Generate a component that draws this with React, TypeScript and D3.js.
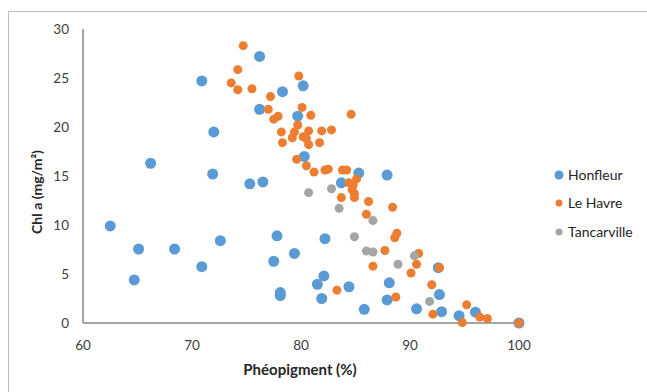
import React from "react";
import * as d3 from "d3";

const honfleurX = [62.5, 64.7, 65.1, 66.2, 68.4, 70.9, 71.9, 72.6, 75.3, 76.5, 70.9, 72.0, 76.2, 78.3, 80.2, 76.2, 79.7, 80.3, 85.3, 87.9, 83.7, 77.8, 79.4, 77.5, 82.2, 82.1, 81.5, 84.4, 78.1, 78.1, 81.9, 85.8, 88.1, 87.9, 90.6, 92.6, 92.7, 92.9, 94.5, 96.0, 100];
const honfleurY = [9.9, 4.4, 7.55, 16.3, 7.55, 5.75, 15.2, 8.4, 14.2, 14.4, 24.7, 19.5, 27.2, 23.6, 24.2, 21.8, 21.1, 17.0, 15.3, 15.1, 14.3, 8.9, 7.1, 6.3, 8.6, 4.8, 3.95, 3.7, 3.1, 2.8, 2.5, 1.4, 4.1, 2.35, 1.45, 5.65, 2.9, 1.15, 0.75, 1.1, 0];

const leHavreX = [74.7, 74.2, 73.6, 74.2, 75.5, 79.8, 77.2, 77.0, 77.9, 77.5, 80.1, 80.9, 84.6, 79.7, 78.2, 79.4, 80.7, 81.9, 82.8, 79.2, 80.2, 80.5, 78.3, 80.7, 81.7, 79.6, 80.5, 81.2, 82.2, 82.5, 83.8, 84.2, 84.4, 84.8, 84.7, 84.9, 84.9, 85.1, 83.7, 86.2, 88.4, 86.0, 88.8, 88.6, 87.7, 86.6, 83.3, 88.7, 90.8, 90.6, 90.1, 92.7, 92.0, 92.1, 95.2, 94.8, 96.4, 97.1, 100];
const leHavreY = [28.3, 25.85, 24.5, 23.8, 23.9, 25.2, 23.1, 21.8, 21.1, 20.8, 22.0, 21.2, 21.3, 20.2, 19.5, 19.5, 19.6, 19.6, 19.7, 18.9, 19.0, 18.8, 18.4, 18.2, 18.4, 16.7, 16.05, 15.4, 15.6, 15.7, 15.6, 15.6, 14.3, 14.1, 13.6, 13.2, 12.8, 14.7, 12.8, 12.4, 11.8, 11.1, 9.15, 8.7, 7.4, 5.8, 3.35, 2.65, 7.1, 6.0, 5.1, 5.65, 3.9, 0.9, 1.85, 0.05, 0.6, 0.45, 0];

const tancarvilleX = [80.7, 82.8, 83.5, 86.6, 84.9, 86.0, 86.6, 90.4, 88.9, 91.8];
const tancarvilleY = [13.3, 13.7, 11.7, 10.45, 8.8, 7.35, 7.25, 6.85, 6.0, 2.2];

const xTicks = [60, 70, 80, 90, 100];
const yTicks = [0, 5, 10, 15, 20, 25, 30];

const series = [
  { name: "Honfleur", xs: honfleurX, ys: honfleurY, color: "#5B9BD5", r: 5.5 },
  { name: "Le Havre", xs: leHavreX, ys: leHavreY, color: "#ED7D31", r: 4.5 },
  { name: "Tancarville", xs: tancarvilleX, ys: tancarvilleY, color: "#A5A5A5", r: 4.5 },
];

const FONT = "Lato, 'Open Sans', sans-serif";

export default function App() {
  const W = 647, H = 392;
  const x = d3.scaleLinear().domain([60, 100]).range([83, 519]);
  const y = d3.scaleLinear().domain([0, 30]).range([323, 29]);
  const legendY = [175, 203, 232];
  return (
    <svg width={W} height={H} style={{ position: "absolute", left: 0, top: 0 }}>
      <rect x={0} y={0} width={W} height={H} fill="#fff" />
      <rect x={8.5} y={11.5} width={W} height={H} fill="none" stroke="#BFBFBF" strokeWidth={1} />
      <line x1={x(60)} x2={x(100)} y1={y(0)} y2={y(0)} stroke="#868686" strokeWidth={1.5} />
      <line x1={x(60)} x2={x(60)} y1={y(0)} y2={y(30)} stroke="#868686" strokeWidth={1.5} />
      {yTicks.map((t) => (
        <text key={t} x={69} y={y(t)} dy="0.35em" textAnchor="end" fontFamily={FONT} fontSize={13.5} fill="#404040">{t}</text>
      ))}
      {xTicks.map((t) => (
        <text key={t} x={x(t)} y={345} dy="0.35em" textAnchor="middle" fontFamily={FONT} fontSize={13.5} fill="#404040">{t}</text>
      ))}
      <text x={300} y={370} dy="0.35em" textAnchor="middle" fontFamily={FONT} fontSize={15} fontWeight="bold" fill="#262626">Phéopigment (%)</text>
      <text transform={`translate(37,192) rotate(-90)`} dy="0.35em" textAnchor="middle" fontFamily={FONT} fontSize={14} fontWeight="bold" fill="#262626">Chl a (mg/m²)</text>
      {series.map((s) => (
        <g key={s.name}>
          {s.xs.map((v, i) => (
            <circle key={i} cx={x(v)} cy={y(s.ys[i])} r={s.r} fill={s.color} />
          ))}
        </g>
      ))}
      {series.map((s, i) => (
        <g key={s.name}>
          <circle cx={559} cy={legendY[i]} r={s.r - 1} fill={s.color} />
          <text x={568} y={legendY[i]} dy="0.35em" fontFamily={FONT} fontSize={14} fill="#262626">{s.name}</text>
        </g>
      ))}
    </svg>
  );
}
